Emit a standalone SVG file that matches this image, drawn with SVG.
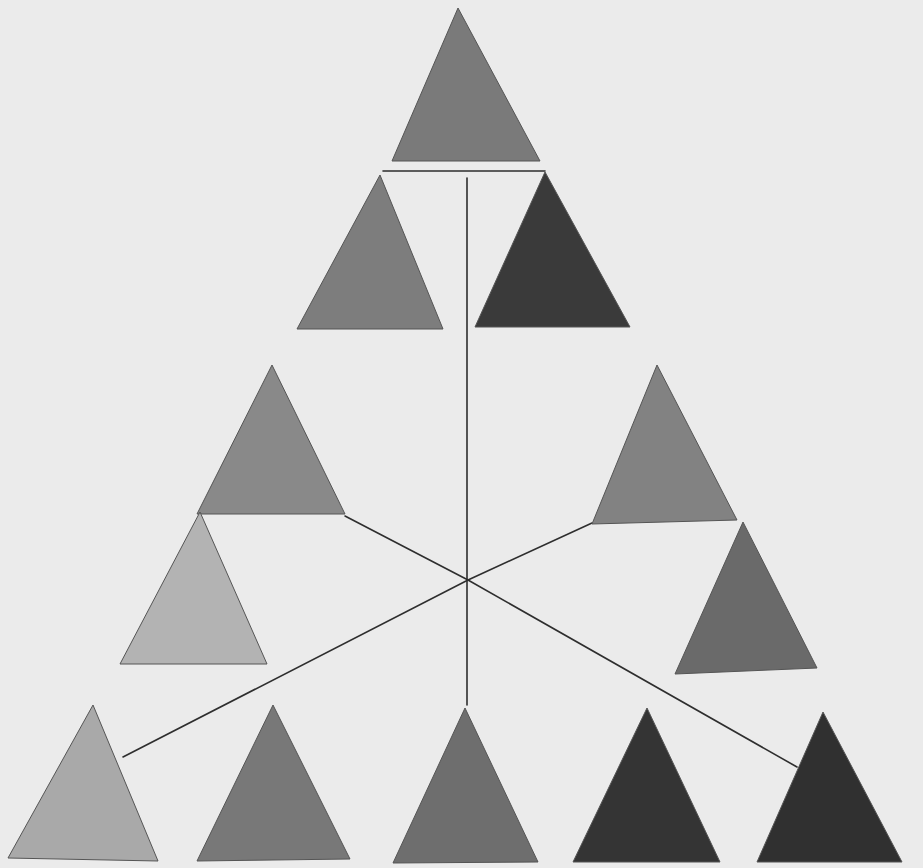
<svg xmlns="http://www.w3.org/2000/svg" width="923" height="868" viewBox="0 0 923 868">
<style>
.tri{stroke:#555;stroke-width:1;stroke-linejoin:round}
.ln{stroke:#2e2e2e;stroke-width:1.6;fill:none;stroke-linecap:round}
</style>
<rect x="0" y="0" width="923" height="868" fill="#ebebeb"/>
<g id="connectors">
<line class="ln" x1="383" y1="171" x2="545" y2="171"/>
<line class="ln" x1="467" y1="178" x2="467" y2="705"/>
<polyline class="ln" points="345,516 468,580 797,767"/>
<polyline class="ln" points="592,523 468,580 123,757"/>
</g>
<g id="t-top"><polygon class="tri" points="458,8 392,161 540,161" fill="#7a7a7a"/></g>
<g id="t-row2-left"><polygon class="tri" points="380,175 297,329 443,329" fill="#7d7d7d"/></g>
<g id="t-row2-right"><polygon class="tri" points="545,172 475,327 630,327" fill="#3a3a3a"/></g>
<g id="t-mid-left-upper"><polygon class="tri" points="272,365 197,514 345,514" fill="#898989"/></g>
<g id="t-mid-left-lower"><polygon class="tri" points="200,512 120,664 267,664" fill="#b3b3b3"/></g>
<g id="t-mid-right-upper"><polygon class="tri" points="657,365 592,524 737,520" fill="#828282"/></g>
<g id="t-mid-right-lower"><polygon class="tri" points="743,522 675,674 817,668" fill="#6a6a6a"/></g>
<g id="t-bottom-1"><polygon class="tri" points="93,705 8,858 158,861" fill="#a9a9a9"/></g>
<g id="t-bottom-2"><polygon class="tri" points="273,705 197,861 350,859" fill="#787878"/></g>
<g id="t-bottom-3"><polygon class="tri" points="465,708 393,863 538,862" fill="#6e6e6e"/></g>
<g id="t-bottom-4"><polygon class="tri" points="647,708 573,862 720,862" fill="#343434"/></g>
<g id="t-bottom-5"><polygon class="tri" points="823,712 757,862 902,862" fill="#303030"/></g>
</svg>
